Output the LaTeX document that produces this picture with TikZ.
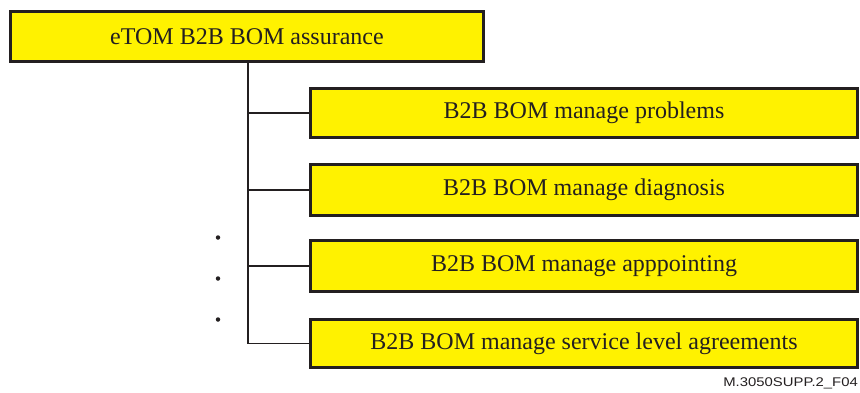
\documentclass[tikz,border=0pt]{standalone}
\usepackage{fontspec}
\setmainfont{Liberation Serif}
\newfontfamily\labelfont{Liberation Sans}
\definecolor{boxyellow}{RGB}{255,242,0}
\definecolor{ink}{RGB}{35,31,32}
\begin{document}
\begin{tikzpicture}[x=1pt,y=-1pt,
  topbox/.style={draw=ink, line width=3pt, fill=boxyellow, minimum width=473pt, minimum height=50pt, inner sep=0pt, font=\fontsize{24}{28}\selectfont, text=ink},
  childbox/.style={draw=ink, line width=3pt, fill=boxyellow, minimum width=547pt, minimum height=49pt, inner sep=0pt, font=\fontsize{24}{28}\selectfont, text=ink},
  conn/.style={draw=ink, line width=1.5pt},
  dotmark/.style={fill=ink, circle, inner sep=0pt, minimum size=4.5pt}]
\useasboundingbox (0,0) rectangle (860,392);
\node[topbox] (top) at (247,36.5) {eTOM B2B BOM assurance};
\node[childbox] (c1) at (584,113) {B2B BOM manage problems};
\node[childbox, minimum height=51pt] (c2) at (584,190) {B2B BOM manage diagnosis};
\node[childbox, minimum height=51pt] (c3) at (584,266) {B2B BOM manage apppointing};
\node[childbox, minimum height=48pt] (c4) at (584,343.5) {B2B BOM manage service level agreements};
\coordinate (trunk) at (248,63);
\draw[conn] (top.south -| trunk) |- (c4.west);
\draw[conn] (trunk |- c1.west) -- (c1.west);
\draw[conn] (trunk |- c2.west) -- (c2.west);
\draw[conn] (trunk |- c3.west) -- (c3.west);
\node[dotmark] (d1) at (218,237.5) {};
\node[dotmark] (d2) at (218,278.5) {};
\node[dotmark] (d3) at (218,319.5) {};
\node[anchor=east, inner sep=0pt, text=ink, font=\labelfont\fontsize{12.6}{14}\selectfont] (lbl) at (858,383.5) {\scalebox{1.18}[1]{M.3050SUPP.2\_F04}};
\end{tikzpicture}
\end{document}
